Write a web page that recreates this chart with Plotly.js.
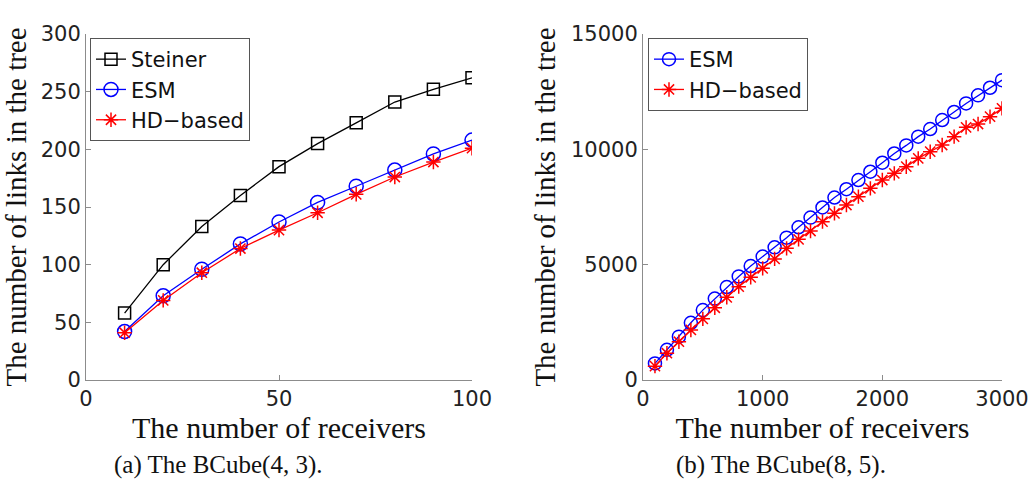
<!DOCTYPE html>
<html>
<head>
<meta charset="utf-8">
<script src="https://cdn.plot.ly/plotly-3.0.1.min.js"></script>
<style>html,body{margin:0;padding:0;background:#fff;}#chart{width:1032px;height:502px;}</style>
</head>
<body>
<div id="chart"></div>
<script>
// Panel (a): BCube(4,3)
const receiversA = [10, 20, 30, 40, 50, 60, 70, 80, 90, 100];
const steinerA = [58, 100, 133, 160, 185, 205, 223, 241, 252, 262];
const esmA = [42, 73, 96, 118, 137, 154, 168, 182, 196, 208];
const hdA = [41, 69, 93, 114, 130, 145, 161, 176, 189, 201];

// Panel (b): BCube(8,5)
const receiversB = [100, 200, 300, 400, 500, 600, 700, 800, 900, 1000,
  1100, 1200, 1300, 1400, 1500, 1600, 1700, 1800, 1900, 2000,
  2100, 2200, 2300, 2400, 2500, 2600, 2700, 2800, 2900, 3000];
const esmB = [720, 1310, 1880, 2480, 3030, 3530, 4030, 4490, 4940, 5350,
  5750, 6170, 6620, 7040, 7480, 7910, 8270, 8670, 9030, 9420,
  9820, 10170, 10550, 10880, 11270, 11620, 11990, 12340, 12670, 13000];
const hdB = [600, 1160, 1660, 2170, 2650, 3130, 3585, 4046, 4451, 4841,
  5250, 5708, 6098, 6459, 6864, 7225, 7586, 7948, 8309, 8670,
  8959, 9248, 9609, 9898, 10187, 10549, 10953, 11098, 11416, 11777];

const xTicksA = [0, 50, 100];
const yTicksA = [0, 50, 100, 150, 200, 250, 300];
const xTicksB = [0, 1000, 2000, 3000];
const yTicksB = [0, 5000, 10000, 15000];

const captionA = '(a) The BCube(4, 3).';
const captionB = '(b) The BCube(8, 5).';
const xTitle = 'The number of receivers';
const yTitle = 'The number of links in the tree';

const BLUE = '#0000ff', RED = '#ff0000', BLACK = '#000000';
const sans = 'DejaVu Sans, Liberation Sans, sans-serif';
const serif = 'Liberation Serif, DejaVu Serif, serif';

const traces = [
  {x: receiversA, y: steinerA, name: 'Steiner', type: 'scatter', mode: 'lines+markers',
   xaxis: 'x', yaxis: 'y', legend: 'legend',
   line: {color: BLACK, width: 1.3},
   marker: {symbol: 'square-open', size: 12, color: BLACK, line: {color: BLACK, width: 1.5}}},
  {x: receiversA, y: esmA, name: 'ESM', type: 'scatter', mode: 'lines+markers',
   xaxis: 'x', yaxis: 'y', legend: 'legend',
   line: {color: BLUE, width: 1.3},
   marker: {symbol: 'circle-open', size: 14, color: BLUE, line: {color: BLUE, width: 1.5}}},
  {x: receiversA, y: hdA, name: 'HD\u2212based', type: 'scatter', mode: 'lines+markers',
   xaxis: 'x', yaxis: 'y', legend: 'legend',
   line: {color: RED, width: 1.3},
   marker: {symbol: 'asterisk-open', size: 12, color: RED, line: {color: RED, width: 1.5}}},
  {x: receiversB, y: esmB, name: 'ESM', type: 'scatter', mode: 'lines+markers',
   xaxis: 'x2', yaxis: 'y2', legend: 'legend2',
   line: {color: BLUE, width: 1.3},
   marker: {symbol: 'circle-open', size: 13, color: BLUE, line: {color: BLUE, width: 1.5}}},
  {x: receiversB, y: hdB, name: 'HD\u2212based', type: 'scatter', mode: 'lines+markers',
   xaxis: 'x2', yaxis: 'y2', legend: 'legend2',
   line: {color: RED, width: 1.3},
   marker: {symbol: 'asterisk-open', size: 12, color: RED, line: {color: RED, width: 1.5}}}
];

const W = 1032, H = 502;
const px = v => v / W;
const py = v => 1 - v / H;

function axisCommon(extra) {
  return Object.assign({
    showgrid: false, zeroline: false, showline: true, linecolor: '#8c8c8c', linewidth: 1,
    ticks: 'inside', ticklen: 5, tickcolor: '#8c8c8c', tickwidth: 1,
    tickfont: {family: sans, size: 21, color: '#222'},
    fixedrange: true, automargin: false
  }, extra);
}

const layout = {
  width: W, height: H,
  margin: {l: 0, r: 0, t: 0, b: 0},
  paper_bgcolor: '#fff', plot_bgcolor: '#fff',
  showlegend: true,
  xaxis: axisCommon({domain: [px(86), px(472)], range: [0, 100], tickvals: xTicksA,
    ticktext: xTicksA.map(String), tickmode: 'array',
    anchor: 'y', title: {text: xTitle, font: {family: serif, size: 30, color: '#111'}, standoff: 3}}),
  yaxis: axisCommon({domain: [py(380), py(34)], range: [0, 300], tickvals: yTicksA,
    ticktext: yTicksA.map(String), tickmode: 'array',
    anchor: 'x', title: {text: yTitle, font: {family: serif, size: 29, color: '#111'}, standoff: 6}}),
  xaxis2: axisCommon({domain: [px(643), px(1002)], range: [0, 3000], tickvals: xTicksB,
    ticktext: xTicksB.map(String), tickmode: 'array',
    anchor: 'y2', title: {text: xTitle, font: {family: serif, size: 30, color: '#111'}, standoff: 3}}),
  yaxis2: axisCommon({domain: [py(380), py(34)], range: [0, 15000], tickvals: yTicksB,
    ticktext: yTicksB.map(String), tickmode: 'array',
    anchor: 'x2', title: {text: yTitle, font: {family: serif, size: 29, color: '#111'}, standoff: 6}}),
  legend: {x: px(90), y: py(38), xanchor: 'left', yanchor: 'top',
    bgcolor: '#fff', bordercolor: '#555', borderwidth: 1,
    font: {family: sans, size: 21, color: '#111'}},
  legend2: {x: px(648), y: py(38), xanchor: 'left', yanchor: 'top',
    bgcolor: '#fff', bordercolor: '#555', borderwidth: 1,
    font: {family: sans, size: 21, color: '#111'}},
  annotations: [
    {text: captionA, xref: 'paper', yref: 'paper', x: px(218), y: py(465), xanchor: 'center', yanchor: 'middle',
     showarrow: false, font: {family: serif, size: 25, color: '#111'}},
    {text: captionB, xref: 'paper', yref: 'paper', x: px(781), y: py(465), xanchor: 'center', yanchor: 'middle',
     showarrow: false, font: {family: serif, size: 25, color: '#111'}}
  ]
};

Plotly.newPlot('chart', traces, layout, {displayModeBar: false, staticPlot: true});
</script>
</body>
</html>
